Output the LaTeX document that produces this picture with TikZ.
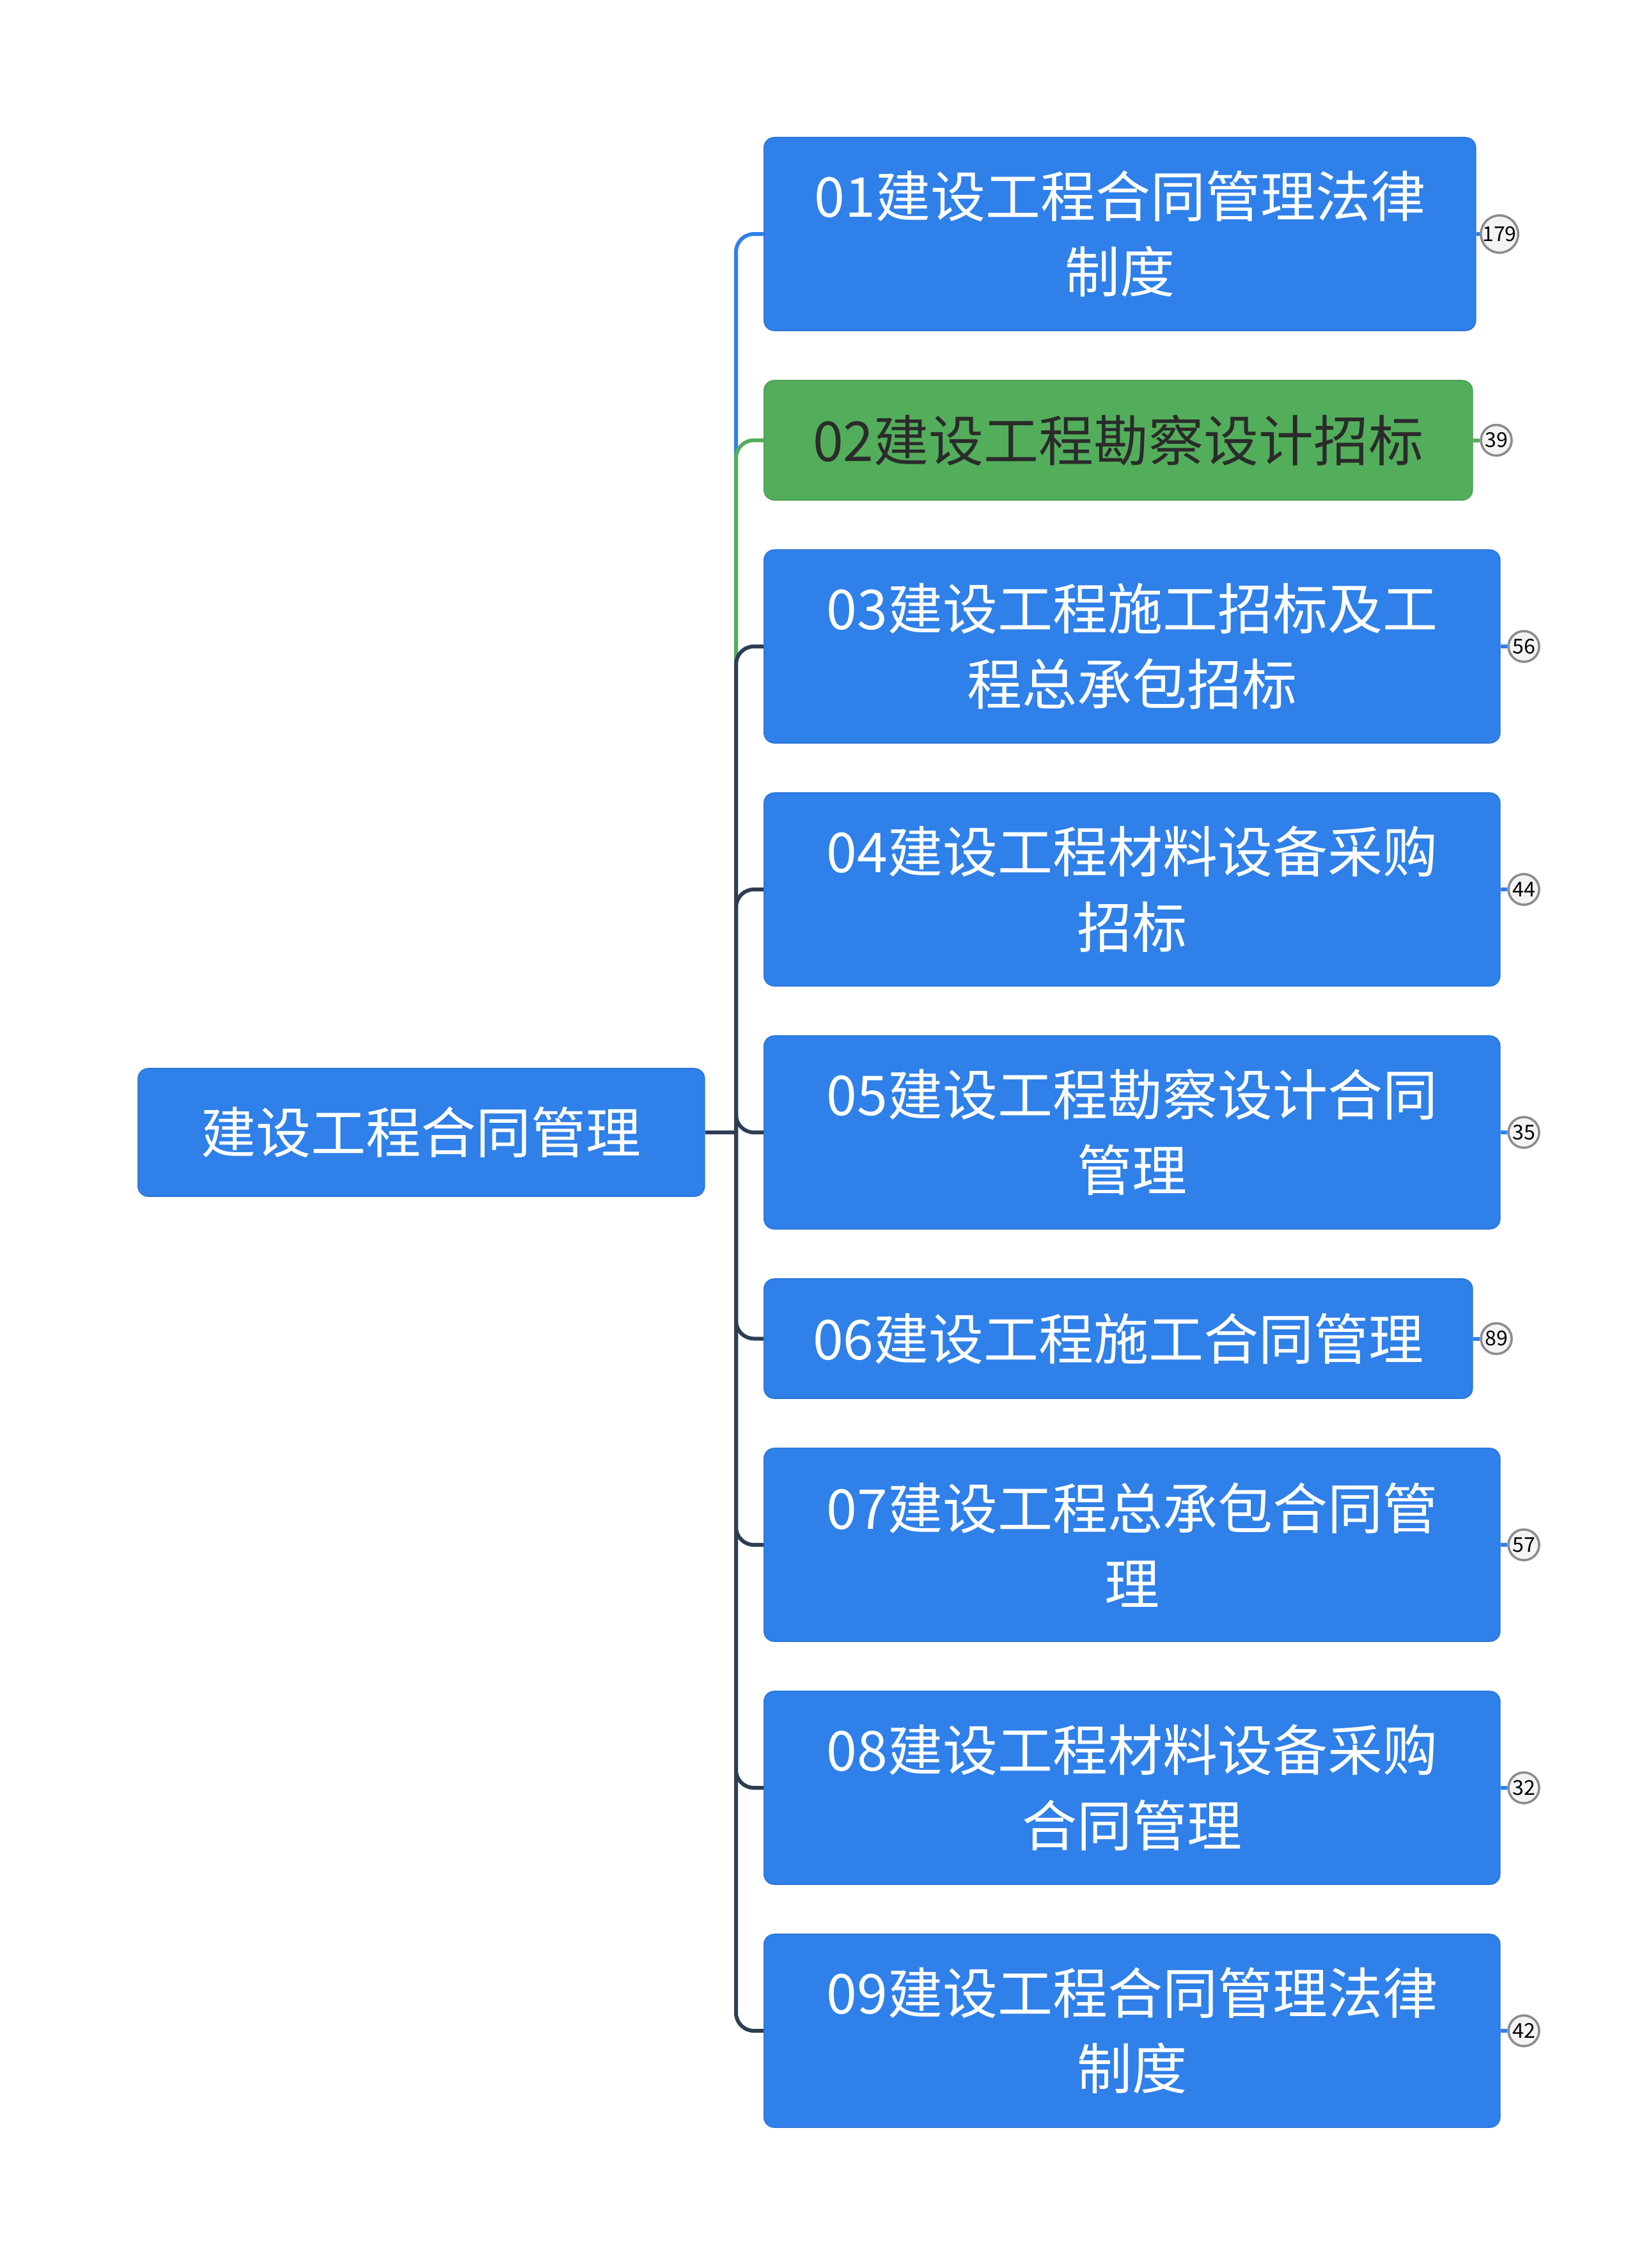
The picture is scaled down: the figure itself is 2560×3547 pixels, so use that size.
\documentclass[tikz,border=0pt]{standalone}
\usepackage{fontspec}
\newfontfamily\cjk{Noto Sans CJK SC}
\definecolor{boxblue}{HTML}{2F80E9}
\definecolor{boxgreen}{HTML}{53AE5B}
\definecolor{conndark}{HTML}{2E3E52}
\definecolor{badgegray}{HTML}{8C8C8C}
\definecolor{badgefill}{HTML}{F4F4F4}
\definecolor{darktext}{HTML}{2B2B2B}
\begin{document}
\begin{tikzpicture}[x=0.25pt,y=-0.25pt,
  box/.style={rounded corners=4pt, inner sep=0pt, align=center, anchor=west,
    font=\cjk\fontsize{21.5}{29.5}\selectfont, text=white, fill=boxblue,
    draw=boxblue!92!black, line width=0.4pt},
  twoline/.style={minimum height=75.5pt},
  oneline/.style={minimum height=46.75pt},
  greenbox/.style={fill=boxgreen, draw=boxgreen!92!black, text=darktext},
  badge/.style={circle, minimum size=12pt, inner sep=0pt, draw=badgegray,
    line width=0.9pt, fill=badgefill, text=black,
    font=\cjk\fontsize{8}{9}\selectfont},
  conn/.style={line width=1.5pt, rounded corners=7pt},
  stub/.style={line width=1.5pt}
]
\useasboundingbox (0,0) rectangle (2560,3547);

% root
\node[box, minimum width=221.5pt, minimum height=50pt] (root) at (215,1771) {建设工程合同管理};

% children
\node[box, twoline, minimum width=278.25pt] (c01) at (1194,366) {01建设工程合同管理法律\\制度};
\node[box, oneline, greenbox, minimum width=277pt] (c02) at (1194,688.5) {02建设工程勘察设计招标};
\node[box, twoline, minimum width=287.75pt] (c03) at (1194,1011) {03建设工程施工招标及工\\程总承包招标};
\node[box, twoline, minimum width=287.75pt] (c04) at (1194,1391) {04建设工程材料设备采购\\招标};
\node[box, twoline, minimum width=287.75pt] (c05) at (1194,1771) {05建设工程勘察设计合同\\管理};
\node[box, oneline, minimum width=277pt] (c06) at (1194,2093.5) {06建设工程施工合同管理};
\node[box, twoline, minimum width=287.75pt] (c07) at (1194,2416) {07建设工程总承包合同管\\理};
\node[box, twoline, minimum width=287.75pt] (c08) at (1194,2796) {08建设工程材料设备采购\\合同管理};
\node[box, twoline, minimum width=287.75pt] (c09) at (1194,3176) {09建设工程合同管理法律\\制度};

% badges
\node[badge] (b01) at (2345,366) {179};
\node[badge] (b02) at (2340,688.5) {39};
\node[badge] (b03) at (2383,1011) {56};
\node[badge] (b04) at (2383,1391) {44};
\node[badge] (b05) at (2383,1771) {35};
\node[badge] (b06) at (2340,2093.5) {89};
\node[badge] (b07) at (2383,2416) {57};
\node[badge] (b08) at (2383,2796) {32};
\node[badge] (b09) at (2383,3176) {42};

% connectors
\coordinate (j) at (1151,1771);
\draw[conn, boxblue] (j) |- (c01.west);
\draw[conn, boxgreen] (j) |- (c02.west);
\foreach \c in {03,04,05,06,07,08,09} {
  \draw[conn, conndark] (j) |- (c\c.west);
}
\draw[stub, conndark] (root.east) -- (j);

% stubs to badges
\draw[stub, boxblue] (c01.east) -- (b01.west);
\draw[stub, boxgreen] (c02.east) -- (b02.west);
\foreach \c in {03,04,05,06,07,08,09} {
  \draw[stub, boxblue] (c\c.east) -- (b\c.west);
}
\end{tikzpicture}
\end{document}
